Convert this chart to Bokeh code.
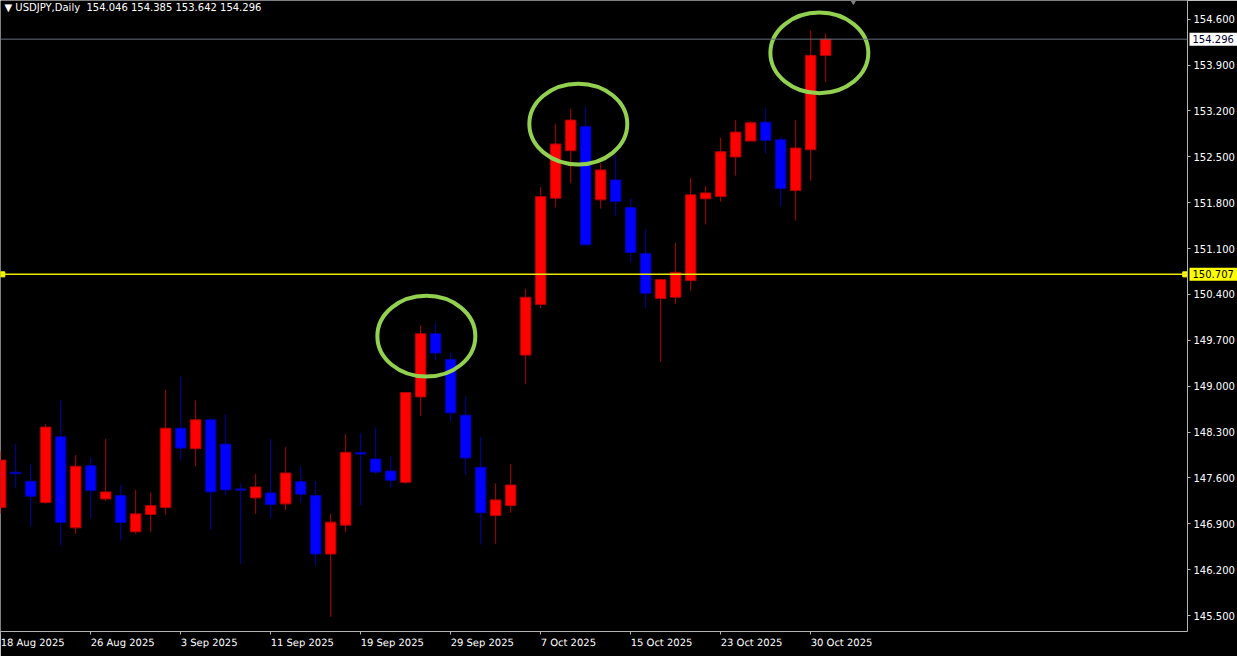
from bokeh.plotting import figure
from bokeh.models import (Range1d, FixedTicker, PrintfTickFormatter, Span, Label, ColumnDataSource)
from bokeh.core.properties import value
from bokeh.embed import file_html
from bokeh.resources import INLINE

# ---- data (USDJPY daily) ----
opens = [147.148, 147.687, 147.550, 147.224, 148.228, 146.839, 147.787, 147.280, 147.331, 146.779,
         147.042, 147.148, 148.360, 148.046, 148.487, 148.117, 147.433, 147.296, 147.372, 147.204,
         147.544, 147.331, 146.439, 146.880, 147.988, 147.889, 147.706, 147.534, 148.836, 149.801,
         149.410, 148.558, 147.763, 147.026, 147.179, 149.475, 150.247, 151.870, 152.594, 152.965,
         151.844, 152.148, 151.727, 151.027, 150.338, 150.358, 150.612, 151.859, 151.894, 152.498,
         152.741, 153.030, 152.761, 151.985, 152.609, 154.046]
highs = [148.011, 148.117, 147.813, 148.421, 148.786, 147.950, 147.919, 148.193, 147.493, 147.417,
         147.376, 148.943, 149.147, 148.786, 148.517, 148.573, 147.519, 147.661, 148.193, 148.071,
         147.772, 147.550, 147.052, 148.269, 148.284, 148.371, 147.930, 148.913, 149.927, 149.958,
         149.512, 148.843, 148.228, 147.519, 147.813, 150.485, 152.037, 153.000, 153.233, 153.263,
         152.402, 152.528, 151.870, 151.398, 150.642, 151.194, 152.178, 152.057, 152.791, 153.061,
         153.045, 153.248, 152.807, 153.061, 154.430, 154.385]
lows = [147.052, 147.443, 146.865, 147.210, 146.566, 146.748, 146.981, 147.250, 146.646, 146.748,
        146.779, 147.037, 147.878, 147.778, 146.809, 147.331, 146.292, 147.052, 146.987, 147.108,
        147.224, 146.266, 145.481, 146.774, 147.179, 147.656, 147.452, 147.509, 148.548, 149.395,
        148.462, 147.646, 146.585, 146.596, 147.068, 149.030, 150.190, 151.727, 152.098, 151.144,
        151.711, 151.600, 150.890, 150.196, 149.369, 150.257, 150.460, 151.468, 151.813, 152.213,
        152.741, 152.554, 151.742, 151.529, 152.137, 153.642]
closes = [147.874, 147.665, 147.321, 148.376, 146.920, 147.778, 147.407, 147.387, 146.920, 147.052,
          147.179, 148.360, 148.056, 148.487, 147.387, 147.417, 147.413, 147.463, 147.194, 147.676,
          147.352, 146.439, 146.926, 147.991, 147.965, 147.691, 147.565, 148.904, 149.801, 149.506,
          148.593, 147.904, 147.068, 147.265, 147.493, 150.358, 151.894, 152.696, 153.061, 151.159,
          152.300, 151.818, 151.042, 150.419, 150.627, 150.738, 151.920, 151.950, 152.578, 152.878,
          153.020, 152.752, 152.016, 152.635, 154.049, 154.296]

date_tick_index = [0, 6, 12, 18, 24, 30, 36, 42, 48, 54]
date_tick_labels = ["18 Aug 2025", "26 Aug 2025", "3 Sep 2025", "11 Sep 2025", "19 Sep 2025",
                    "29 Sep 2025", "7 Oct 2025", "15 Oct 2025", "23 Oct 2025", "30 Oct 2025"]
price_ticks = [145.5, 146.2, 146.9, 147.6, 148.3, 149.0, 149.7, 150.4, 151.1, 151.8, 152.5, 153.2, 153.9, 154.6]

symbol = "USDJPY,Daily"
bid_price = 154.296
hline_price = 150.707

# highlight ellipses (centre bar index, centre price)
ring_x = [28.38, 38.51, 54.58]
ring_y = [149.764, 153.000, 154.087]

# ---- build ----
n = len(opens)
idx = list(range(n))
up = [c >= o for o, c in zip(opens, closes)]
body_col = ["#FF0000" if u else "#0000FF" for u in up]
wick_col = ["#B00000" if u else "#0000A8" for u in up]
src = ColumnDataSource(dict(
    x=idx,
    top=[max(o, c) for o, c in zip(opens, closes)],
    bottom=[min(o, c) for o, c in zip(opens, closes)],
    high=highs, low=lows, body=body_col, wick=wick_col))

FONT = "DejaVu Sans"
FS = "10px"
PLOT_W = 1187
PX = 15.0  # pixels per bar
x0 = -0.01
x1 = x0 + PLOT_W / PX
y0, y1 = 145.257, 154.886
p = figure(width=1237, height=656, output_backend="svg", toolbar_location=None,
           x_range=Range1d(x0, x1), y_range=Range1d(y0, y1),
           y_axis_location="right", background_fill_color="#000000",
           border_fill_color="#000000", outline_line_color=None,
           min_border_left=0, min_border_top=0, min_border_right=50, min_border_bottom=23)
p.grid.visible = False

p.segment(x0="x", y0="high", x1="x", y1="low", line_color="wick", line_width=1, source=src)
p.vbar(x="x", top="top", bottom="bottom", width=0.7, fill_color="body",
       line_color="wick", line_width=1, source=src)

# lines
p.add_layout(Span(location=bid_price, dimension="width", line_color="#66707C", line_width=1))
p.add_layout(Span(location=hline_price, dimension="width", line_color="#E8E800", line_width=1.5))
p.scatter(x=[x0 + 0.12, x1 - 0.15], y=[hline_price, hline_price], marker="square", size=5,
          fill_color="#FFFF00", line_color="#FFFF00")
p.scatter(x=[56.85], y=[154.93], marker="inverted_triangle", size=12,
          fill_color="#7F7F7F", line_color="#7F7F7F")

# rings
p.ellipse(x=ring_x, y=ring_y, width=6.53, height=1.232, fill_color=None,
          line_color="#92D050", line_width=4)

# axes
ya = p.yaxis[0]
ya.ticker = FixedTicker(ticks=price_ticks)
ya.formatter = PrintfTickFormatter(format="%.3f")
ya.axis_line_color = "#B4B4B4"
ya.major_tick_line_color = "#B4B4B4"
ya.major_tick_in = 0
ya.major_tick_out = 3
ya.minor_tick_line_color = None
ya.major_label_text_color = "#FFFFFF"
ya.major_label_text_font = FONT
ya.major_label_text_font_size = FS
ya.major_label_standoff = 3

xa = p.xaxis[0]
xa.ticker = FixedTicker(ticks=date_tick_index)
xa.major_label_overrides = {i: s for i, s in zip(date_tick_index, date_tick_labels)}
xa.axis_line_color = "#B4B4B4"
xa.major_tick_line_color = "#B4B4B4"
xa.major_tick_in = 0
xa.major_tick_out = 3
xa.minor_tick_line_color = None
xa.major_label_text_color = "#FFFFFF"
xa.major_label_text_font = FONT
xa.major_label_text_font_size = FS
# a tiny clockwise tilt makes Bokeh anchor the labels at their left edge (MT4 style)
xa.major_label_orientation = -0.0005
xa.major_label_standoff = 8

# price boxes on the axis: glyphs at overlay level (not clipped to the frame)
box_cx = x0 + (PLOT_W + 26) / PX
box_tx = x0 + (PLOT_W + 5) / PX
box_prices = [bid_price, hline_price]
p.rect(x=[box_cx, box_cx], y=box_prices, width=48, width_units="screen",
       height=13, height_units="screen", fill_color=["#FFFFFF", "#FFFF00"],
       line_color=None, level="overlay")
p.text(x=[box_tx, box_tx], y=box_prices, text=[f"{v:.3f}" for v in box_prices],
       text_color=["#000030", "#000000"], text_font=value(FONT), text_font_size=value(FS),
       text_baseline="middle", text_align="left", level="overlay")

# header
p.add_layout(Label(x=x0, y=y1, x_offset=4, y_offset=-1,
                   text=f"\u25BC {symbol}\u00a0\u00a0{opens[-1]:.3f} {highs[-1]:.3f} {lows[-1]:.3f} {closes[-1]:.3f}",
                   text_color="#FFFFFF", text_font=FONT, text_font_size=FS, text_baseline="top"))

open("out.html", "w").write(file_html(p, INLINE))
